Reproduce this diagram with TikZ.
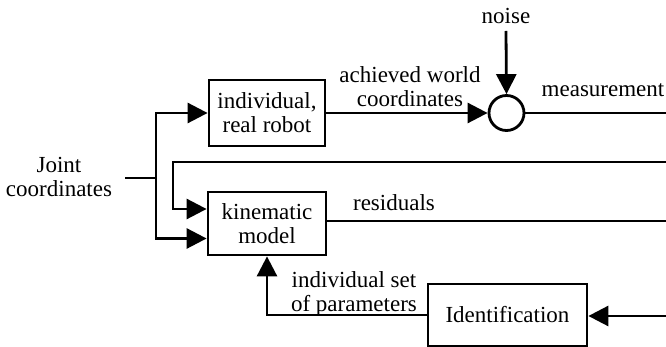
\documentclass[tikz,border=0pt]{standalone}
\usepackage{fontspec}
\setmainfont{Liberation Serif}
\usetikzlibrary{arrows.meta,calc}
\begin{document}
\begin{tikzpicture}[x=0.5pt,y=-0.5pt,
  every node/.style={font=\fontsize{11.5}{12}\selectfont, inner sep=0pt, align=center},
  blk/.style={draw, line width=1.4pt, inner sep=2pt},
  wire/.style={line width=1.4pt},
  arr/.style={wire, -{Triangle[length=10pt,width=10pt]}},
  lbl/.style={}]
\useasboundingbox (0,0) rectangle (666,347);
% blocks
\node[blk, minimum width=58pt, minimum height=33pt] (robot) at (267,113) {individual,\\real robot};
\node[blk, minimum width=59pt, minimum height=31.5pt] (kin) at (267,223.5) {kinematic\\model};
\node[blk, minimum width=79.5pt, minimum height=31pt] (ident) at (507.5,315) {Identification};
\node[draw, circle, line width=1.4pt, minimum size=17.5pt] (sum) at (506.5,113) {};
% labels
\node[lbl] (jc) at (59,177) {Joint\\coordinates};
\node[lbl] (noise) at (506,16) {noise};
\node[lbl] (awc) at (410,87) {achieved world\\coordinates};
\node[lbl, anchor=base] (meas) at (603,97) {measurement};
\node[lbl, anchor=base] (res) at (394,211) {residuals};
\node[lbl] (isp) at (354,294) {individual set\\of parameters};
% coordinates
\coordinate (split) at (156,178);
\coordinate (jcEnd) at (125,178);
\coordinate (fbR) at (666,162);
\coordinate (fbL) at (173,162);
\coordinate (measR) at (666,113);
\coordinate (resR) at (666,221);
\coordinate (idR) at (666,316);
\coordinate (noiseTop) at (506,31);
% connectors
\draw[wire] (jcEnd) -- (split);
\draw[arr] (split) |- (robot.west);
\draw[arr] (split) |- ($(kin.west)+(0,15)$);
\draw[arr] (fbR) -- (fbL) |- ($(kin.west)+(0,-14.5)$);
\draw[arr] (robot.east) -- (sum.west);
\draw[arr] (noiseTop) -- (sum.north);
\draw[wire] (sum.east) -- (measR);
\draw[wire] (kin.east |- resR) -- (resR);
\draw[arr] (idR) -- (ident.east |- idR);
\draw[arr] (ident.west) -| (kin.south);
\end{tikzpicture}
\end{document}
